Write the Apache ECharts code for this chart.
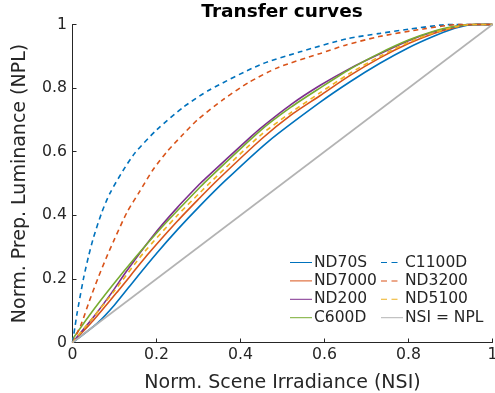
<!DOCTYPE html>
<html>
<head>
<meta charset="utf-8">
<script src="https://cdn.jsdelivr.net/npm/echarts@6/dist/echarts.min.js"></script>
<style>html,body{margin:0;padding:0;background:#fff}#c{width:495px;height:393px}</style>
</head>
<body>
<div id="c"></div>
<script>
const xTicks = [0, 0.2, 0.4, 0.6, 0.8, 1];
const yTicks = [0, 0.2, 0.4, 0.6, 0.8, 1];

const nd70sX = [0, 0.06, 0.1, 0.15, 0.2, 0.25, 0.3, 0.363, 0.466, 0.589, 0.661, 0.732, 0.8, 0.86, 0.91, 0.94, 0.96, 1];
const nd70sY = [0, 0.062, 0.118, 0.2, 0.28, 0.355, 0.425, 0.508, 0.632, 0.755, 0.82, 0.878, 0.927, 0.963, 0.988, 0.998, 1, 1];

const nd7000X = [0, 0.05, 0.109, 0.18, 0.25, 0.304, 0.343, 0.45, 0.52, 0.589, 0.661, 0.732, 0.8, 0.86, 0.91, 0.94, 0.96, 1];
const nd7000Y = [0, 0.07, 0.163, 0.278, 0.382, 0.456, 0.508, 0.64, 0.715, 0.776, 0.84, 0.895, 0.94, 0.972, 0.991, 0.999, 1, 1];

const nd200X = [0, 0.05, 0.093, 0.129, 0.192, 0.25, 0.304, 0.315, 0.423, 0.446, 0.52, 0.589, 0.661, 0.732, 0.8, 0.86, 0.91, 0.94, 0.96, 1];
const nd200Y = [0, 0.08, 0.156, 0.225, 0.336, 0.425, 0.5, 0.514, 0.645, 0.672, 0.748, 0.808, 0.862, 0.908, 0.949, 0.977, 0.993, 0.999, 1, 1];

const c600dX = [0, 0.04, 0.093, 0.15, 0.204, 0.25, 0.304, 0.323, 0.446, 0.52, 0.589, 0.661, 0.732, 0.8, 0.86, 0.91, 0.94, 0.96, 1];
const c600dY = [0.01, 0.085, 0.176, 0.268, 0.35, 0.415, 0.489, 0.514, 0.665, 0.74, 0.8, 0.86, 0.91, 0.951, 0.979, 0.994, 0.999, 1, 1];

const c1100dX = [0, 0.006, 0.01, 0.026, 0.038, 0.05, 0.07, 0.089, 0.12, 0.15, 0.2, 0.264, 0.326, 0.446, 0.542, 0.653, 0.732, 0.8, 0.875, 0.91, 1];
const c1100dY = [0, 0.05, 0.085, 0.2, 0.27, 0.33, 0.41, 0.469, 0.54, 0.598, 0.668, 0.74, 0.794, 0.873, 0.914, 0.955, 0.972, 0.985, 0.998, 1, 1];

const nd3200X = [0, 0.02, 0.04, 0.06, 0.08, 0.1, 0.13, 0.16, 0.19, 0.225, 0.26, 0.3, 0.36, 0.42, 0.49, 0.59, 0.65, 0.73, 0.835, 0.92, 1];
const nd3200Y = [0, 0.055, 0.13, 0.2, 0.265, 0.325, 0.41, 0.475, 0.54, 0.6, 0.65, 0.703, 0.765, 0.818, 0.865, 0.909, 0.935, 0.962, 0.986, 1, 1];

const nd5100X = [0, 0.05, 0.1, 0.17, 0.25, 0.304, 0.335, 0.446, 0.52, 0.589, 0.661, 0.732, 0.8, 0.86, 0.91, 0.94, 0.96, 1];
const nd5100Y = [0, 0.08, 0.163, 0.283, 0.4, 0.472, 0.512, 0.65, 0.723, 0.785, 0.847, 0.9, 0.944, 0.974, 0.992, 0.999, 1, 1];

const refX = [0, 1];
const refY = [0, 1];

const names = ['ND70S', 'ND7000', 'ND200', 'C600D', 'C1100D', 'ND3200', 'ND5100', 'NSI = NPL'];

function pairs(xs, ys) { return xs.map((x, i) => [x, ys[i]]); }

const FONT = 'DejaVu Sans';
const TXT = '#262626';
const SOLID_ICON = 'path://M0,0h22v1h-22z';
const DASH_ICON = 'path://M0,0h6v1h-6zM10.5,0h6v1h-6zM22,0v1z';

function mk(name, xs, ys, color, dashed) {
  return {
    name: name, type: 'line', data: pairs(xs, ys), symbol: 'none',
    smooth: 0.25,
    clip: false,
    lineStyle: { color: color, width: 1.6, type: dashed ? [5, 4] : 'solid' },
    itemStyle: { color: color }
  };
}

const legendText = { fontFamily: FONT, fontSize: 15.5, lineHeight: 16, color: TXT, padding: [0, 0, 0, -3] };

const chart = echarts.init(document.getElementById('c'), null, { renderer: 'canvas' });
chart.setOption({
  animation: false,
  backgroundColor: '#fff',
  title: {
    text: 'Transfer curves', left: 282, top: 3, textAlign: 'center', padding: 0,
    textStyle: { fontFamily: FONT, fontWeight: 'bold', fontSize: 18.5, color: '#000' }
  },
  grid: { left: 72.5, right: 2.5, top: 24.5, bottom: 50.5, containLabel: false, outerBoundsMode: 'none' },
  xAxis: {
    type: 'value', min: 0, max: 1, interval: 0.2,
    name: 'Norm. Scene Irradiance (NSI)', nameLocation: 'middle', nameGap: 31,
    nameTextStyle: { fontFamily: FONT, fontSize: 19, color: TXT },
    axisLine: { show: true, lineStyle: { color: TXT, width: 1 } },
    axisTick: { show: true, inside: true, length: 4, lineStyle: { color: TXT } },
    axisLabel: { fontFamily: FONT, fontSize: 15.7, color: TXT, margin: 4,
      formatter: v => { const t = xTicks.find(k => Math.abs(k - v) < 1e-9); return t === undefined ? '' : String(t); } },
    splitLine: { show: false }
  },
  yAxis: {
    type: 'value', min: 0, max: 1, interval: 0.2,
    name: 'Norm. Prep. Luminance (NPL)', nameLocation: 'middle', nameGap: 43, nameRotate: 90,
    nameTextStyle: { fontFamily: FONT, fontSize: 19, color: TXT },
    axisLine: { show: true, lineStyle: { color: TXT, width: 1 } },
    axisTick: { show: true, inside: true, length: 4, lineStyle: { color: TXT } },
    axisLabel: { fontFamily: FONT, fontSize: 15.7, color: TXT, margin: 5.5,
      formatter: v => { const t = yTicks.find(k => Math.abs(k - v) < 1e-9); return t === undefined ? '' : String(t); } },
    splitLine: { show: false }
  },
  legend: [
    { data: names.slice(0, 4).map(n => ({ name: n, icon: SOLID_ICON })),
      orient: 'vertical', left: 290, top: 254.5, padding: 0,
      itemWidth: 22, itemHeight: 1.6, itemGap: 2.4, textStyle: legendText },
    { data: names.slice(4).map((n, i) => ({ name: n, icon: i < 3 ? DASH_ICON : SOLID_ICON })),
      orient: 'vertical', left: 381, top: 254.5, padding: 0,
      itemWidth: 22, itemHeight: 1.6, itemGap: 2.4, textStyle: legendText }
  ],
  series: [
    mk(names[0], nd70sX, nd70sY, '#0072BD', false),
    mk(names[1], nd7000X, nd7000Y, '#D95319', false),
    mk(names[2], nd200X, nd200Y, '#7E2F8E', false),
    mk(names[3], c600dX, c600dY, '#77AC30', false),
    mk(names[4], c1100dX, c1100dY, '#0072BD', true),
    mk(names[5], nd3200X, nd3200Y, '#D95319', true),
    mk(names[6], nd5100X, nd5100Y, '#EDB120', true),
    mk(names[7], refX, refY, '#B3B3B3', false)
  ]
});
</script>
</body>
</html>
